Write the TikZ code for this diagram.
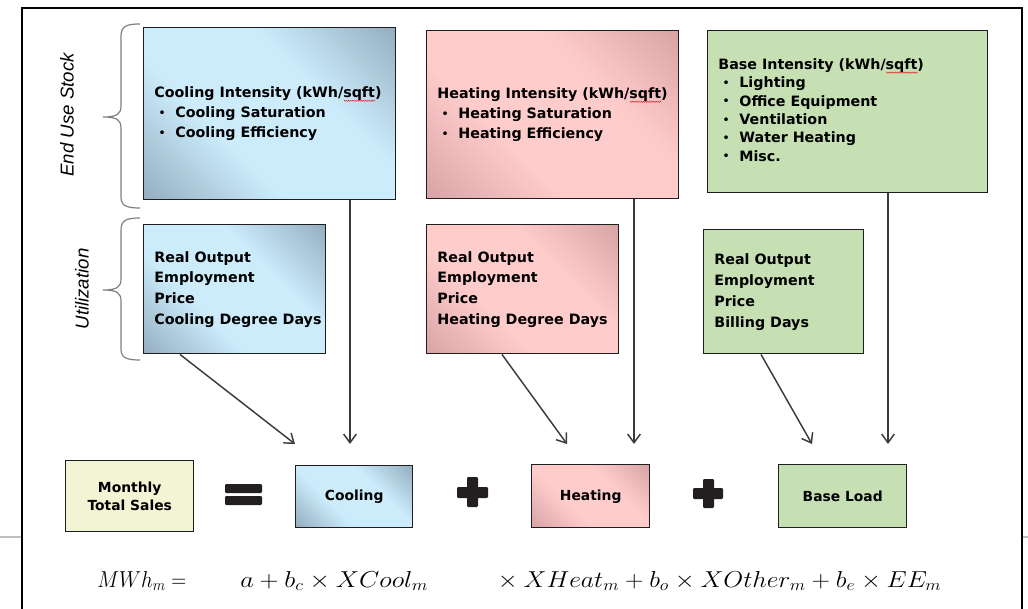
\documentclass[tikz,border=0pt]{standalone}
\usepackage{fontspec}
\setmainfont{DejaVu Sans}
\newfontfamily\labelfont{Liberation Sans}
\usetikzlibrary{arrows.meta,decorations.pathmorphing}
\definecolor{clight}{RGB}{204,236,252}
\definecolor{cdark}{RGB}{146,172,190}
\definecolor{hlight}{RGB}{255,204,204}
\definecolor{hdark}{RGB}{216,162,164}
\definecolor{bgreen}{RGB}{198,224,180}
\definecolor{myellow}{RGB}{242,244,212}
\definecolor{edge}{RGB}{30,30,30}
\definecolor{arrowgray}{RGB}{60,60,60}
\definecolor{bracegray}{RGB}{128,128,128}
\definecolor{signblack}{RGB}{35,31,32}
\definecolor{squigred}{RGB}{220,40,40}
\pgfdeclarehorizontalshading{coolshade}{100bp}{color(0bp)=(cdark); color(14bp)=(cdark); color(38bp)=(clight); color(62bp)=(clight); color(86bp)=(cdark); color(100bp)=(cdark)}
\pgfdeclarehorizontalshading{heatshade}{100bp}{color(0bp)=(hdark); color(14bp)=(hdark); color(38bp)=(hlight); color(62bp)=(hlight); color(86bp)=(hdark); color(100bp)=(hdark)}
\newcommand{\bt}[2]{\makebox[#1][l]{\begin{tabular}{@{}l@{}}#2\end{tabular}}}
\newcommand{\bul}{\makebox[15.75pt][l]{\hspace{3pt}\raisebox{0.3pt}{\scalebox{0.9}{\mdseries •}}}}
\newsavebox{\sqbox}
\newcommand{\squig}[1]{\sbox{\sqbox}{#1}\rlap{\tikz[baseline=0pt]{\path (0pt,0pt) (\the\wd\sqbox,0pt);\draw[squigred, line width=0.35pt, decorate, decoration={zigzag, segment length=1.6pt, amplitude=0.45pt}] (0.5pt,-2.3pt) -- (\the\wd\sqbox,-2.3pt);}}\usebox{\sqbox}}
\tikzset{
  box/.style={draw=edge, line width=1.1pt, anchor=north west, inner xsep=8pt, inner ysep=0pt, align=left},
  cbox/.style={draw=edge, line width=1.1pt, anchor=north west, inner sep=0pt, align=center,
    font=\fontsize{10.4}{13.5}\selectfont\bfseries},
  coolfill/.style={shade, shading=coolshade, shading angle=45},
  heatfill/.style={shade, shading=heatshade, shading angle=45},
  basefill/.style={fill=bgreen},
  bigtext/.style={font=\fontsize{10.7}{15}\selectfont\bfseries},
  basetext/.style={font=\fontsize{10.7}{13.75}\selectfont\bfseries},
  utiltext/.style={font=\fontsize{10.7}{15.6}\selectfont\bfseries},
  arr/.style={draw=arrowgray, line width=1.1pt, -{Straight Barb[length=6.5pt,width=9.5pt,line width=1.1pt]}},
  bracepath/.style={draw=bracegray, line width=0.9pt},
  sidelabel/.style={rotate=90, font=\labelfont\itshape\fontsize{14}{16}\selectfont},
  sign/.style={fill=signblack, rounded corners=0.8pt},
  formula/.style={anchor=base west, inner sep=0pt, font=\fontsize{17}{20}\selectfont}
}
\begin{document}
\begin{tikzpicture}[x=0.75pt,y=-0.75pt]
\useasboundingbox (0,0) rectangle (1028,609);
% frame
\draw[line width=1.5pt] (22,609) -- (22,8) -- (1022,8) -- (1022,609);
\draw[black!25, line width=0.8pt] (0,537) -- (21,537);
\draw[black!25, line width=0.8pt] (1023,537) -- (1028,537);

% braces and side labels
\draw[bracepath] (140,24) .. controls (127,24) and (121,26) .. (121,36) -- (121,106) .. controls (121,114) and (117,117) .. (103,117) .. controls (117,117) and (121,120) .. (121,128) -- (121,197) .. controls (121,206) and (127,208) .. (140,208);
\draw[bracepath] (140,218) .. controls (127,218) and (121,220) .. (121,230) -- (121,279) .. controls (121,287) and (117,290) .. (103,290) .. controls (117,290) and (121,293) .. (121,301) -- (121,349) .. controls (121,358) and (127,360) .. (140,360);
\node[sidelabel] (lstock) at (67,115) {End Use Stock};
\node[sidelabel] (lutil) at (82,289) {Utilization};

% intensity boxes
\node[box, coolfill, bigtext, minimum width=189pt, minimum height=129pt] (ci) at (143,27)
  {\bt{173pt}{Cooling Intensity (kWh/\squig{sqft})\\ \bul Cooling Saturation\\ \bul Cooling Efficiency}};
\node[box, heatfill, bigtext, minimum width=189pt, minimum height=126pt] (hi) at (426,30)
  {\bt{173pt}{Heating Intensity (kWh/\squig{sqft})\\ \bul Heating Saturation\\ \bul Heating Efficiency}};
\node[box, basefill, basetext, minimum width=210pt, minimum height=121.5pt] (bi) at (707,30)
  {\bt{194pt}{Base Intensity (kWh/\squig{sqft})\\ \bul Lighting\\ \bul Office Equipment\\ \bul Ventilation\\ \bul Water Heating\\ \bul Misc.}};

% utilization boxes
\node[box, coolfill, utiltext, minimum width=136.5pt, minimum height=96.75pt] (cu) at (143,224)
  {\bt{120.5pt}{Real Output\\ Employment\\ Price\\ Cooling Degree Days}};
\node[box, heatfill, utiltext, minimum width=144pt, minimum height=96.75pt] (hu) at (426,224)
  {\bt{128pt}{Real Output\\ Employment\\ Price\\ Heating Degree Days}};
\node[box, basefill, utiltext, minimum width=120pt, minimum height=93pt] (bu) at (703,229)
  {\bt{104pt}{Real Output\\ Employment\\ Price\\ Billing Days}};

% bottom row
\node[cbox, fill=myellow, minimum width=96pt, minimum height=53.25pt] (mts) at (65,460) {Monthly\\ Total Sales};
\node[cbox, coolfill, minimum width=87.75pt, minimum height=46.5pt] (cool) at (295,465) {Cooling};
\node[cbox, heatfill, minimum width=88.5pt, minimum height=47.25pt] (heat) at (531,464) {Heating};
\node[cbox, basefill, minimum width=96pt, minimum height=47.25pt] (base) at (778,464) {Base Load};

% signs
\fill[sign] (225,484) rectangle (262,493);
\fill[sign] (225,496) rectangle (262,505);
\fill[sign] (467,477) rectangle (478,507);
\fill[sign] (457,487) rectangle (488,498);
\fill[sign] (703,479) rectangle (714,508);
\fill[sign] (693,488) rectangle (723,499);

% arrow end points
\coordinate (cv) at (350,444);
\coordinate (hv) at (634,444);
\coordinate (bv) at (888,444);
\coordinate (cd) at (295,444);
\coordinate (hd) at (567,444);
\coordinate (bd) at (812,444);
\draw[arr] (ci.south -| cv) -- (cv);
\draw[arr] (hi.south -| hv) -- (hv);
\draw[arr] (bi.south -| bv) -- (bv);
\draw[arr] (cu.south -| 180,0) -- (cd);
\draw[arr] (hu.south -| 502,0) -- (hd);
\draw[arr] (bu.south -| 761,0) -- (bd);

% formula
\node[formula] (f1) at (97,587) {\scalebox{0.9}[1]{$MWh_m =$}};
\node[formula] (f2) at (240,587) {\scalebox{1.14}[1]{$a + b_c \times XCool_m$}};
\node[formula] (f3) at (492,587) {\scalebox{1.115}[1]{${}\times XHeat_m + b_o \times XOther_m + b_e \times EE_m$}};
\end{tikzpicture}
\end{document}
